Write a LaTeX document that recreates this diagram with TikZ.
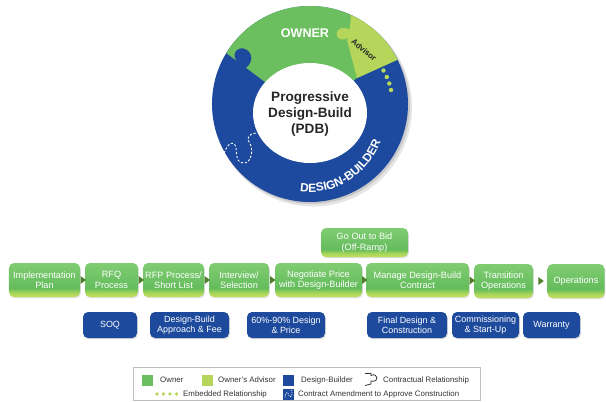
\documentclass[tikz,border=0pt]{standalone}
\usepackage{fontspec}
\setmainfont{Liberation Sans}
\usetikzlibrary{calc,shadows,decorations.text}
\definecolor{ringblue}{HTML}{1D4A9E}
\definecolor{ringgreen}{HTML}{6CBF5F}
\definecolor{advgreen}{HTML}{B6D65B}
\definecolor{dotgreen}{HTML}{B9D85E}
\definecolor{boxblue}{HTML}{1D4A9C}
\definecolor{gTop}{HTML}{80CC72}
\definecolor{gMid}{HTML}{64BC5C}
\definecolor{gLow}{HTML}{A9D65A}
\definecolor{gBot}{HTML}{C2E05C}
\definecolor{arrowgreen}{HTML}{4D7F2A}
\definecolor{legtext}{HTML}{333333}
\pgfdeclareverticalshading{gboxshade}{100bp}{color(0bp)=(gBot); color(25bp)=(gBot); color(31bp)=(gLow); color(38bp)=(gMid); color(75bp)=(gTop); color(100bp)=(gTop)}
\tikzset{
  gbox/.style={shade, shading=gboxshade, rounded corners=5bp, minimum height=34bp,
    text=white, align=center, font=\fontsize{9.2}{10.5}\selectfont, inner sep=1bp,
    drop shadow={opacity=0.25, shadow xshift=0.8bp, shadow yshift=-1.2bp}},
  bbox/.style={fill=boxblue, rounded corners=5bp, minimum height=26bp,
    text=white, align=center, font=\fontsize{9}{10.2}\selectfont, inner sep=1bp,
    drop shadow={opacity=0.3, shadow xshift=0.8bp, shadow yshift=-1.2bp}},
  flowarrow/.style={fill=arrowgreen},
  legtxt/.style={anchor=west, text=legtext, font=\fontsize{7.9}{9}\selectfont, inner sep=0pt},
  amend/.style={white, line width=0.9bp, dash pattern=on 2.2bp off 1.8bp}
}
\begin{document}
\begin{tikzpicture}[x=1bp, y=-1bp]
\useasboundingbox (0,0) rectangle (606,401);
% ring shadow
\fill[black, opacity=0.10] (313,107.5) circle[radius=99];
\fill[black, opacity=0.12] (311.5,105.5) circle[radius=98.5];
% ring
\fill[ringblue] (310,104) circle[radius=98];
\begin{scope}
  \clip (310,104) circle[radius=98];
  % owner (green) part with the design-builder tab cut into it
  \fill[ringgreen] (190,26) -- (236,60.3)
     .. controls (231,52) and (239,45.5) .. (246.5,49.5)
     .. controls (254,54) and (252,64) .. (246,67.8)
     -- (265,82) -- (310,113) -- (357,78) -- (430,45) -- (430,-10) -- (190,-10) -- cycle;
  % advisor (light green) part with its tab into the owner part
  \fill[advgreen] (353,-10) -- (350,27) -- (349.4,29.5)
     .. controls (345,26.5) and (336.5,27.5) .. (336.5,34)
     .. controls (336.5,40) and (344,41) .. (348,37.5)
     -- (347,40) -- (357,78) -- (430,45) -- (430,-10) -- cycle;
\end{scope}
\fill[white] (310,113) ellipse[x radius=57, y radius=50];
% embedded dots
\foreach \p in {(383.5,70.5),(386.8,77),(389.3,83.5),(391,90)}
  \fill[dotgreen] \p circle[radius=2.2];
% contract amendment curve
\draw[amend] (223,157) .. controls (226,146) and (231,140) .. (235,145)
  .. controls (238,150) and (234,162) .. (243,163)
  .. controls (252,164) and (254,148) .. (249,142)
  .. controls (246,138) and (250,133) .. (256,133);
% ring texts
\node[font=\fontsize{13.6}{16.5}\selectfont\bfseries, align=center, text=black!85] (pdb) at (310,114) {Progressive\\Design-Build\\(PDB)};
\node[font=\fontsize{12.6}{14}\selectfont\bfseries, text=white] (owner) at (305,33) {OWNER};
\node[font=\fontsize{8}{9}\selectfont\bfseries, text=black!85, rotate=-40, inner sep=0pt] (advisor) at (364,50) {Advisor};
\path[decorate, decoration={text along path, text={|\fontsize{12}{14}\selectfont\bfseries\color{white}|DESIGN-BUILDER}, text align=center}]
  (311,108) ++(102:76 and 84) arc[start angle=102, end angle=20, x radius=76, y radius=84];
% process row
\node[gbox, minimum width=71bp] (impl) at (44.5,280) {Implementation\\Plan};
\node[gbox, minimum width=53bp] (rfq) at (111.5,280) {RFQ\\Process};
\node[gbox, minimum width=61bp] (rfp) at (173.5,280) {RFP Process/\\Short List};
\node[gbox, minimum width=60bp] (intv) at (239,280) {Interview/\\Selection};
\node[gbox, minimum width=87bp] (nego) at (318.5,280) {Negotiate Price\\with Design-Builder};
\node[gbox, minimum width=103bp] (manage) at (417.5,280) {Manage Design-Build\\Contract};
\node[gbox, minimum width=59bp] (trans) at (503.5,281) {Transition\\Operations};
\node[gbox, minimum width=57bp] (ops) at (576,281) {Operations};
\node[gbox, minimum width=87bp, minimum height=29bp] (bid) at (364.5,242.5) {Go Out to Bid\\(Off-Ramp)};
\foreach \a/\b in {impl/rfq, rfq/rfp, rfp/intv, intv/nego, nego/manage, manage/trans, trans/ops}
  \fill[flowarrow] ($(\a.east)!0.5!(\b.west)$) ++(-2,-4) -- ++(5.5,4) -- ++(-5.5,4) -- cycle;
% deliverables
\node[bbox, minimum width=54bp] (soq) at (110,325) {SOQ};
\node[bbox, minimum width=79bp] (dbaf) at (189.5,325) {Design-Build\\Approach \& Fee};
\node[bbox, minimum width=78bp] (sixty) at (286,325) {60\%-90\% Design\\\& Price};
\node[bbox, minimum width=80bp] (final) at (407,325) {Final Design \&\\Construction};
\node[bbox, minimum width=67bp] (comm) at (485.5,325) {Commissioning\\\& Start-Up};
\node[bbox, minimum width=57bp] (warr) at (551.5,325) {Warranty};
% legend
\draw[black!25, line width=0.6bp] (133,367) rectangle (480.5,400.3);
\fill[ringgreen] (142,374.5) rectangle (153,385.5);
\node[legtxt] (lgowner) at (160,380) {Owner};
\fill[advgreen] (202,374.5) rectangle (213,385.5);
\node[legtxt] (lgadv) at (218,380) {Owner's Advisor};
\fill[boxblue] (283,374.5) rectangle (294,385.5);
\node[legtxt] (lgdb) at (301,380) {Design-Builder};
\draw[black!80, line width=0.8bp] (365,373.5) -- (371,373.5) -- (371,375.5)
  .. controls (378,372) and (380,383) .. (371,381) -- (371,384) -- (365,385.5);
\node[legtxt] (lgcon) at (383,380) {Contractual Relationship};
\foreach \x in {157,163.5,170,176.5}
  \fill[dotgreen] (\x,394) circle[radius=1.8];
\node[legtxt] (lgemb) at (183,394) {Embedded Relationship};
\fill[boxblue] (283,388.5) rectangle (294,399.5);
\draw[white, line width=0.6bp, dash pattern=on 1.2bp off 1bp] (285,397.5) .. controls (285.5,392) and (288,391) .. (288.5,394.5) .. controls (289,398) and (292.5,397) .. (292,392.5) .. controls (291.5,390.5) and (291,390) .. (292.5,389.8);
\node[legtxt] (lgamd) at (298,394) {Contract Amendment to Approve Construction};
\end{tikzpicture}
\end{document}
